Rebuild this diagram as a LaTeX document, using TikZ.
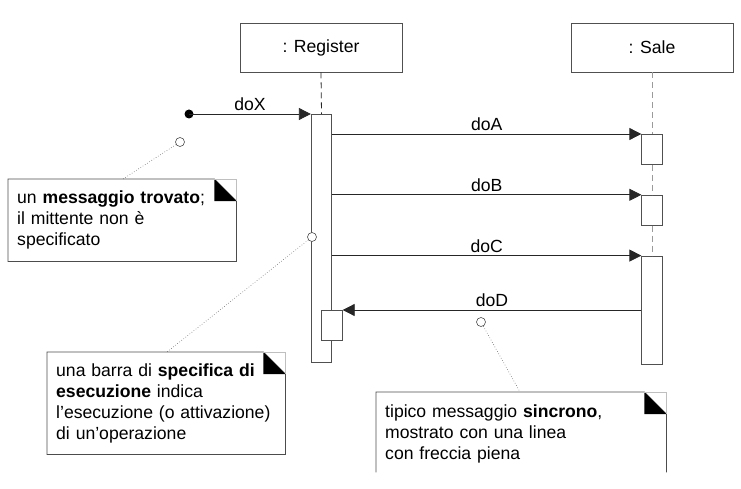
\documentclass[tikz,border=0pt]{standalone}
\usepackage{fontspec}
\setmainfont{Liberation Sans}
\usetikzlibrary{arrows.meta,positioning}
\definecolor{linegray}{HTML}{505050}
\definecolor{dashgray}{HTML}{9A9A9A}

\begin{document}
\begin{tikzpicture}[x=1pt, y=-1pt,
  font=\fontsize{17.6}{21}\selectfont,
  objbox/.style={draw=linegray, line width=0.8pt, minimum width=162pt, minimum height=49pt, inner sep=0pt},
  bar/.style={draw=linegray, line width=0.8pt, fill=white, minimum width=20.5pt, inner sep=0pt, anchor=north},
  lifeline/.style={dash pattern=on 6pt off 4pt, line width=0.8pt},
  msg/.style={-{Triangle[length=12pt, width=12pt]}, line width=0.8pt, draw=black!85},
  lbl/.style={above, inner sep=3pt},
  pinhole/.style={circle, draw=black!70, fill=white, line width=0.6pt, minimum size=9pt, inner sep=0pt},
  link/.style={dotted, draw=black!60, line width=0.6pt},
  note/.style={anchor=north west, align=left, inner xsep=9pt, inner ysep=0pt},
  noteline/.style={draw=black!70, line width=0.8pt},
  corner/.style={draw=black!25, line width=0.6pt}
]
\useasboundingbox (0,0) rectangle (741,489);

% objects
\node[objbox] (reg) at (321,47.5) {: Register};
\node[objbox] (sale) at (652,47.5) {: Sale};

% execution bars
\node[bar, minimum height=248pt] (regbar) at (321.5,114) {};
\node[bar, minimum height=30pt] (sa) at (652,134) {};
\node[bar, minimum height=30pt, below=30pt of sa] (sb) {};
\node[bar, minimum height=108pt, below=30pt of sb] (sc) {};
\node[bar, minimum height=30pt] (nest) at (332,310) {};

% lifelines
\draw[lifeline, draw=black!85] (reg.south) -- (regbar.north);
\draw[lifeline, draw=dashgray] (sale.south) -- (sa.north);
\draw[lifeline, draw=dashgray] (sa.south) -- (sb.north);
\draw[lifeline, draw=dashgray] (sb.south) -- (sc.north);

% messages
\node[circle, fill=black, minimum size=9pt, inner sep=0pt] (found) at (189,114) {};
\draw[msg] (found.center) -- (regbar.north west) node[lbl, midway] {doX};
\draw[msg] (regbar.east |- sa.north) -- (sa.north west) node[lbl, midway] {doA};
\draw[msg] (regbar.east |- sb.north) -- (sb.north west) node[lbl, midway] {doB};
\draw[msg] (regbar.east |- sc.north) -- (sc.north west) node[lbl, midway] {doC};
\draw[msg] (sc.west |- nest.north) -- (nest.north east) node[lbl, midway] {doD};

% notes
\node[note, text width=210pt, minimum width=228pt, minimum height=82pt] (n1) at (8,179) {un \textbf{messaggio trovato};\\il mittente non è\\specificato};
\node[note, text width=220pt, minimum width=238pt, minimum height=102pt] (n2) at (47,352) {una barra di \textbf{specifica di}\\\textbf{esecuzione} indica\\l’esecuzione (o attivazione)\\di un’operazione};
\node[note, text width=272pt, minimum width=290pt, minimum height=83pt] (n3) at (376,392) {tipico messaggio \textbf{sincrono},\\mostrato con una linea\\con freccia piena};

\draw[noteline] (n1.north west) -- ([xshift=-22pt]n1.north east) -- ([yshift=-22pt]n1.north east) -- (n1.south east) -- (n1.south west) -- cycle;
\fill ([xshift=-22pt]n1.north east) -- ([xshift=-22pt,yshift=-22pt]n1.north east) -- ([yshift=-22pt]n1.north east) -- cycle;
\draw[corner] ([xshift=-22pt]n1.north east) -- (n1.north east) -- ([yshift=-22pt]n1.north east);

\draw[noteline] (n2.north west) -- ([xshift=-22pt]n2.north east) -- ([yshift=-22pt]n2.north east) -- (n2.south east) -- (n2.south west) -- cycle;
\fill ([xshift=-22pt]n2.north east) -- ([xshift=-22pt,yshift=-22pt]n2.north east) -- ([yshift=-22pt]n2.north east) -- cycle;
\draw[corner] ([xshift=-22pt]n2.north east) -- (n2.north east) -- ([yshift=-22pt]n2.north east);

\draw[noteline] ([yshift=3pt]n3.south west) -- (n3.north west) -- ([xshift=-22pt]n3.north east) -- ([yshift=-22pt]n3.north east) -- ([yshift=3pt]n3.south east);
\fill ([xshift=-22pt]n3.north east) -- ([xshift=-22pt,yshift=-22pt]n3.north east) -- ([yshift=-22pt]n3.north east) -- cycle;
\draw[corner] ([xshift=-22pt]n3.north east) -- (n3.north east) -- ([yshift=-22pt]n3.north east);

% anchors of the notes
\node[pinhole] (p1) at (180,142) {};
\node[pinhole] (p2) at (312,237) {};
\node[pinhole] (p3) at (481,322) {};
\draw[link] (p1) -- ([xshift=115pt]n1.north west);
\draw[link] (p2) -- ([xshift=120pt]n2.north west);
\draw[link] (p3) -- ([xshift=144pt]n3.north west);
\end{tikzpicture}
\end{document}
